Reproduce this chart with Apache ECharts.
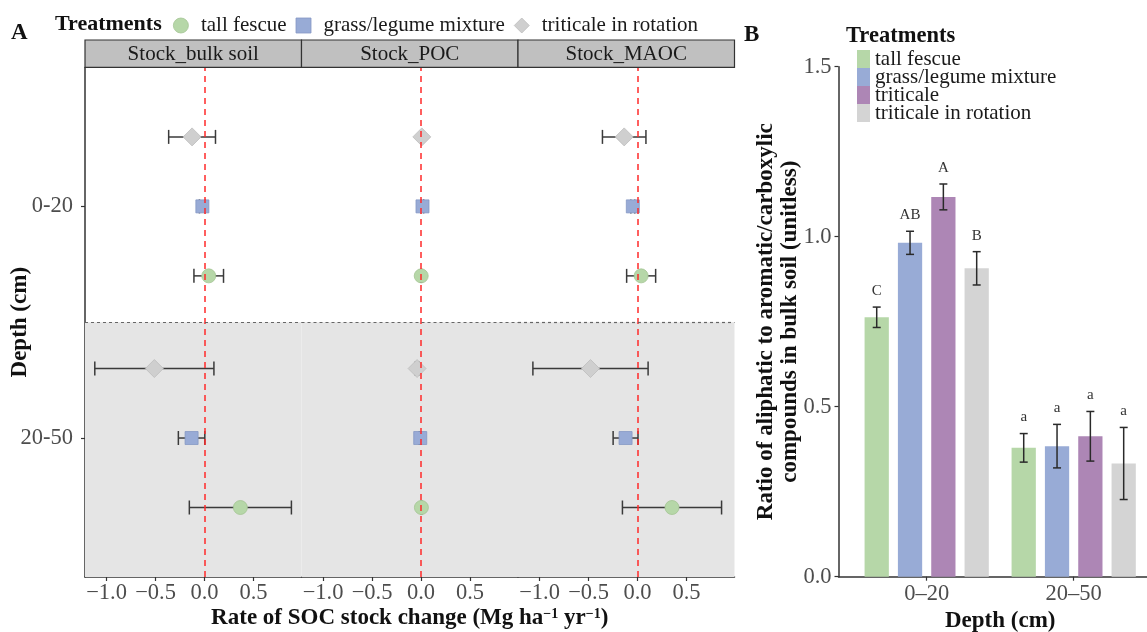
<!DOCTYPE html>
<html><head><meta charset="utf-8">
<script src="https://cdn.jsdelivr.net/npm/echarts@6/dist/echarts.min.js"></script>
<style>html,body{margin:0;padding:0;background:#fff}#c{width:1147px;height:632px}</style>
</head><body><div id="c"></div>
<script>
// ---------- Panel A data ----------
const facets = ['Stock_bulk soil', 'Stock_POC', 'Stock_MAOC'];
const depthsA = ['0-20', '20-50'];
const treatA = ['tall fescue', 'grass/legume mixture', 'triticale in rotation'];
// each row = one facet, values = [0-20, 20-50]
const tallFescueMean = [[0.043, 0.366], [0.002, 0.004], [0.037, 0.352]];
const tallFescueSE   = [[0.151, 0.521], [0.006, 0.006], [0.148, 0.506]];
const mixtureMean    = [[-0.022, -0.132], [0.015, -0.008], [-0.048, -0.122]];
const mixtureSE      = [[0.030, 0.135], [0.012, 0.010], [0.020, 0.127]];
const rotationMean   = [[-0.127, -0.512], [0.008, -0.040], [-0.136, -0.480]];
const rotationSE     = [[0.239, 0.608], [0.008, 0.018], [0.222, 0.588]];
const xTicksA = [-1.0, -0.5, 0.0, 0.5];

// ---------- Panel B data ----------
const depthsB = ['0\u201320', '20\u201350'];
const treatB = ['tall fescue', 'grass/legume mixture', 'triticale', 'triticale in rotation'];
const ratioTallFescue = [0.763, 0.379];
const ratioMixture    = [0.982, 0.384];
const ratioTriticale  = [1.117, 0.413];
const ratioRotation   = [0.907, 0.333];
const seTallFescue = [0.030, 0.042];
const seMixture    = [0.034, 0.064];
const seTriticale  = [0.038, 0.073];
const seRotation   = [0.049, 0.106];
const lettersTallFescue = ['C', 'a'];
const lettersMixture    = ['AB', 'a'];
const lettersTriticale  = ['A', 'a'];
const lettersRotation   = ['B', 'a'];
const yTicksB = [0, 0.5, 1.0, 1.5];

// ---------- style ----------
const SERIF = '"Liberation Serif", "Times New Roman", serif';
const colGreen = '#b6d7a8', colBlue = '#98abd6', colPurple = '#ad86b5', colGray = '#d4d4d4';
const axisCol = '#333333', tickLabCol = '#4d4d4d';
const TICK_FS = 22.5, TITLE_FS = 23;

const gridLeftsA = [85, 301.5, 518], facetW = 216.5, gridTopA = 67.4, gridHA = 509.6;

const meansA = [tallFescueMean, mixtureMean, rotationMean];
const sesA = [tallFescueSE, mixtureSE, rotationSE];
const dodgeA = [-0.3, 0, 0.3];
const symA = ['circle', 'rect', 'diamond'];
const symSizeA = [14, 13, 18];
const legendIconA = ['circle', 'path://M0,0H10V10H0Z', 'path://M5,0L10,5L5,10L0,5Z'];
const colA = [colGreen, colBlue, '#cfcfcf'];
const borderA = ['#a3c493', '#8598c4', '#bdbdbd'];

function depthY(d) { return 2 - d; } // 0-20 -> 2, 20-50 -> 1

const grids = [], xAxes = [], yAxes = [], series = [], graphics = [];

function minusFmt(v) {
  return (v < 0 ? '\u2212' : '') + Math.abs(v).toFixed(1);
}

function errA(params, api) {
  const y = api.value(2);
  const a = api.coord([api.value(0), y]);
  const b = api.coord([api.value(1), y]);
  const h = 7;
  const st = { stroke: '#3a3a3a', lineWidth: 1.5 };
  return { type: 'group', children: [
    { type: 'line', shape: { x1: a[0], y1: a[1], x2: b[0], y2: b[1] }, style: st },
    { type: 'line', shape: { x1: a[0], y1: a[1] - h, x2: a[0], y2: a[1] + h }, style: st },
    { type: 'line', shape: { x1: b[0], y1: b[1] - h, x2: b[0], y2: b[1] + h }, style: st }
  ]};
}

facets.forEach((f, i) => {
  grids.push({ left: gridLeftsA[i], top: gridTopA, width: facetW, height: gridHA, containLabel: false, outerBoundsMode: 'none' });
  const xa = {
    type: 'value', gridIndex: i, min: -1.22, max: 0.99,
    axisLine: { show: true, onZero: false, lineStyle: { color: axisCol, width: 1.5 } },
    axisTick: { show: true, customValues: xTicksA, length: 4, lineStyle: { color: axisCol, width: 1.2 } },
    axisLabel: { customValues: xTicksA, formatter: minusFmt, color: tickLabCol, fontSize: TICK_FS, fontFamily: SERIF, margin: 5 },
    splitLine: { show: false }
  };
  if (i === 1) {
    xa.name = 'Rate of SOC stock change (Mg ha{sup|\u22121} yr{sup|\u22121})';
    xa.nameLocation = 'middle';
    xa.nameGap = 30;
    xa.nameMoveOverlap = false;
    xa.nameTextStyle = { fontSize: TITLE_FS, fontWeight: 'bold', fontFamily: SERIF, color: '#111',
      rich: { sup: { fontSize: 14, fontWeight: 'bold', fontFamily: SERIF, color: '#111', verticalAlign: 'top', lineHeight: 14, padding: [0, 0, 6, 0] } } };
  }
  xAxes.push(xa);
  const ya = {
    type: 'value', gridIndex: i, min: 0.4, max: 2.6,
    axisLine: { show: i === 0, onZero: false, lineStyle: { color: axisCol, width: 1.5 } },
    axisTick: { show: i === 0, customValues: [1, 2], length: 4, lineStyle: { color: axisCol, width: 1.2 } },
    axisLabel: { show: i === 0, customValues: [1, 2], formatter: v => depthsA[2 - v], color: tickLabCol, fontSize: TICK_FS, fontFamily: SERIF, margin: 12 },
    splitLine: { show: false }
  };
  if (i === 0) {
    ya.name = 'Depth (cm)';
    ya.nameLocation = 'middle';
    ya.nameGap = 53;
    ya.nameMoveOverlap = false;
    ya.nameTextStyle = { fontSize: TITLE_FS, fontWeight: 'bold', fontFamily: SERIF, color: '#111' };
  }
  yAxes.push(ya);

  // background for deeper layer
  series.push({
    type: 'line', xAxisIndex: i, yAxisIndex: i, data: [], silent: true, z: 0,
    markArea: { silent: true, itemStyle: { color: '#e5e5e5' }, data: [[{ yAxis: 0.4 }, { yAxis: 1.5 }]] }
  });
  // error bars
  const errData = [];
  treatA.forEach((t, k) => {
    [0, 1].forEach(d => {
      const m = meansA[k][i][d], s = sesA[k][i][d];
      errData.push([m - s, m + s, depthY(d) + dodgeA[k]]);
    });
  });
  series.push({ type: 'custom', xAxisIndex: i, yAxisIndex: i, data: errData, renderItem: errA,
    encode: { x: [0, 1], y: 2 }, z: 2, silent: true });
  // points
  treatA.forEach((t, k) => {
    series.push({
      name: t, type: 'scatter', xAxisIndex: i, yAxisIndex: i, z: 3,
      symbol: symA[k], symbolSize: symSizeA[k],
      itemStyle: { color: colA[k], borderColor: borderA[k], borderWidth: 0.8, opacity: 1 },
      data: [0, 1].map(d => [meansA[k][i][d], depthY(d) + dodgeA[k]])
    });
  });
  // reference lines
  series.push({
    type: 'line', xAxisIndex: i, yAxisIndex: i, data: [], silent: true, z: 5,
    markLine: { silent: true, symbol: 'none', label: { show: false },
      data: [
        { xAxis: 0, lineStyle: { color: '#ff2a2a', type: [6, 5], width: 1.5 } },
        { yAxis: 1.5, lineStyle: { color: '#666', type: [3, 3], width: 1.2 } }
      ] }
  });
  // facet strip
  graphics.push({ type: 'rect', shape: { x: gridLeftsA[i], y: 40, width: facetW, height: 27.4 },
    style: { fill: '#c0c0c0', stroke: '#333', lineWidth: 1.2 }, z: 10 });
  graphics.push({ type: 'text', x: gridLeftsA[i] + facetW / 2, y: 54,
    style: { text: f, font: '21px ' + SERIF, fill: '#1a1a1a', align: 'center', verticalAlign: 'middle' }, z: 11 });
});

// ---------- Panel B ----------
const gB = 3;
grids.push({ left: 838.5, top: 66.7, width: 323.4, height: 510, containLabel: false, outerBoundsMode: 'none' });
xAxes.push({
  type: 'value', gridIndex: gB, min: 0.4, max: 2.6,
  axisLine: { show: true, onZero: false, lineStyle: { color: axisCol, width: 1.5 } },
  axisTick: { show: true, customValues: [1, 2], length: 4, lineStyle: { color: axisCol, width: 1.2 } },
  axisLabel: { customValues: [1, 2], formatter: v => depthsB[v - 1], color: tickLabCol, fontSize: TICK_FS, fontFamily: SERIF, margin: 6 },
  splitLine: { show: false },
  name: 'Depth (cm)', nameLocation: 'middle', nameGap: 33, nameMoveOverlap: false,
  nameTextStyle: { fontSize: TITLE_FS, fontWeight: 'bold', fontFamily: SERIF, color: '#111' }
});
yAxes.push({
  type: 'value', gridIndex: gB, min: 0, max: 1.5, interval: 0.5,
  axisLine: { show: true, onZero: false, lineStyle: { color: axisCol, width: 1.5 } },
  axisTick: { show: true, length: 4, lineStyle: { color: axisCol, width: 1.2 } },
  axisLabel: { formatter: v => v.toFixed(1), color: tickLabCol, fontSize: TICK_FS, fontFamily: SERIF, margin: 7 },
  splitLine: { show: false },
  name: 'Ratio of aliphatic to aromatic/carboxylic\ncompounds in bulk soil (unitless)',
  nameLocation: 'middle', nameGap: 36, nameMoveOverlap: false,
  nameTextStyle: { fontSize: TITLE_FS, fontWeight: 'bold', fontFamily: SERIF, color: '#111', lineHeight: 24 }
});

const ratiosB = [ratioTallFescue, ratioMixture, ratioTriticale, ratioRotation];
const sesB = [seTallFescue, seMixture, seTriticale, seRotation];
const lettersB = [lettersTallFescue, lettersMixture, lettersTriticale, lettersRotation];
const colB = [colGreen, colBlue, colPurple, colGray];
const slotB = 0.2267, barW = 0.165;

treatB.forEach((t, k) => {
  const off = (k - 1.5) * slotB;
  series.push({
    name: t, type: 'custom', xAxisIndex: gB, yAxisIndex: gB, z: 3,
    itemStyle: { color: colB[k] },
    encode: { x: 0, y: 1 },
    data: [0, 1].map(d => [d + 1, ratiosB[k][d], sesB[k][d]]),
    renderItem: (params, api) => {
      const x = api.value(0) + off, y = api.value(1), s = api.value(2);
      const p0 = api.coord([x - barW / 2, 0]);
      const p1 = api.coord([x + barW / 2, y]);
      const eTop = api.coord([x, y + s]);
      const eBot = api.coord([x, y - s]);
      const cw = 4;
      const st = { stroke: '#2a2a2a', lineWidth: 1.5 };
      return { type: 'group', children: [
        { type: 'rect', shape: { x: p0[0], y: p1[1], width: p1[0] - p0[0], height: p0[1] - p1[1] },
          style: { fill: api.visual('color') } },
        { type: 'line', shape: { x1: eTop[0], y1: eTop[1], x2: eBot[0], y2: eBot[1] }, style: st },
        { type: 'line', shape: { x1: eTop[0] - cw, y1: eTop[1], x2: eTop[0] + cw, y2: eTop[1] }, style: st },
        { type: 'line', shape: { x1: eBot[0] - cw, y1: eBot[1], x2: eBot[0] + cw, y2: eBot[1] }, style: st },
        { type: 'text', x: eTop[0], y: eTop[1] - 16,
          style: { text: lettersB[k][params.dataIndex], font: '15px ' + SERIF, fill: '#333', align: 'center', verticalAlign: 'middle' } }
      ]};
    }
  });
});

const option = {
  animation: false,
  backgroundColor: '#ffffff',
  title: [
    { text: 'A', left: 11, top: 22, padding: 0, textStyle: { fontSize: 23, fontWeight: 'bold', fontFamily: SERIF, color: '#111' } },
    { text: 'Treatments', left: 55, top: 13, padding: 0, textStyle: { fontSize: 22, fontWeight: 'bold', fontFamily: SERIF, color: '#111' } },
    { text: 'B', left: 744, top: 24, padding: 0, textStyle: { fontSize: 23, fontWeight: 'bold', fontFamily: SERIF, color: '#111' } },
    { text: 'Treatments', left: 846, top: 25, padding: 0, textStyle: { fontSize: 22.5, fontWeight: 'bold', fontFamily: SERIF, color: '#111' } }
  ],
  legend: [
    {
      left: 173, top: 15, padding: 0, itemGap: 9, itemWidth: 30, itemHeight: 15, selectedMode: false,
      textStyle: { fontSize: 21, fontFamily: SERIF, color: '#1a1a1a' },
      data: treatA.map((t, k) => ({ name: t, icon: legendIconA[k], itemStyle: { color: colA[k], borderColor: borderA[k], borderWidth: 0.8 } }))
    },
    {
      orient: 'vertical', left: 857, top: 48.5, padding: 0, itemGap: -3, itemWidth: 13, itemHeight: 18, selectedMode: false,
      textStyle: { fontSize: 21, fontFamily: SERIF, color: '#1a1a1a' },
      data: treatB.map((t, k) => ({ name: t, icon: 'rect', itemStyle: { color: colB[k], borderWidth: 0 } }))
    }
  ],
  grid: grids,
  xAxis: xAxes,
  yAxis: yAxes,
  series: series,
  graphic: graphics
};

const chart = echarts.init(document.getElementById('c'), null, { renderer: 'canvas' });
chart.setOption(option);
</script>
</body></html>
